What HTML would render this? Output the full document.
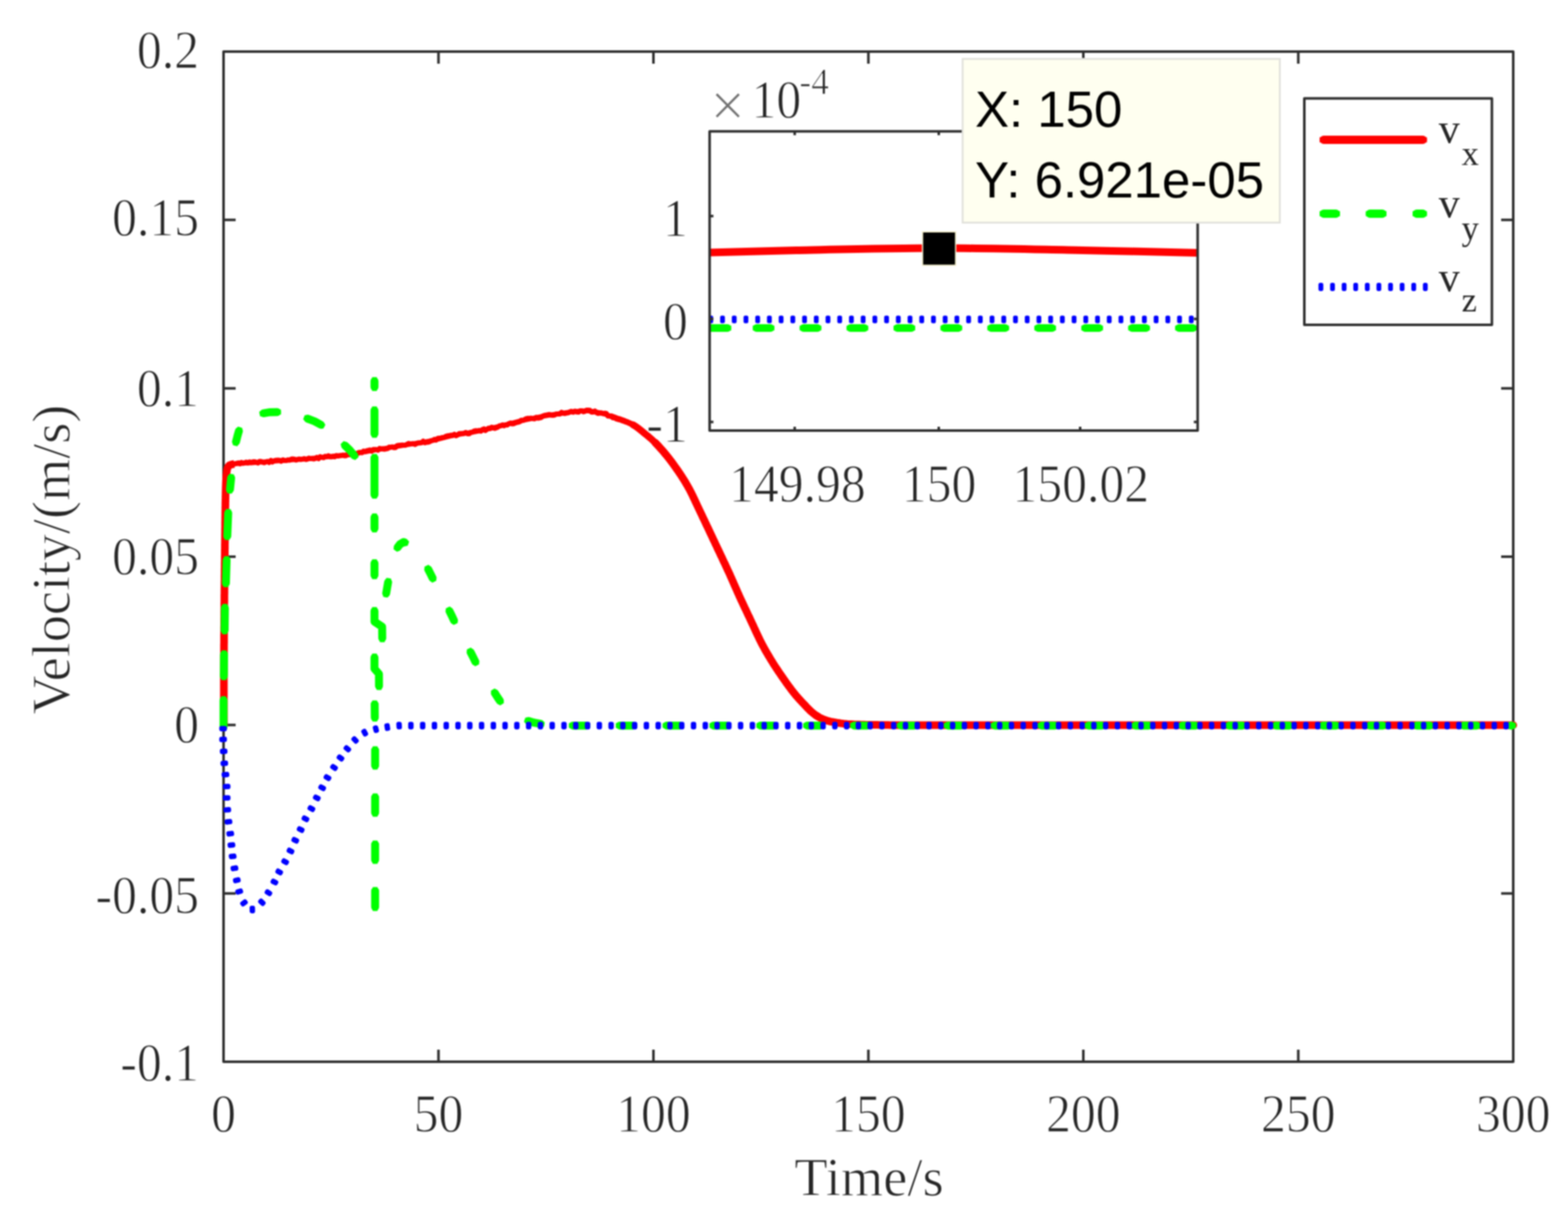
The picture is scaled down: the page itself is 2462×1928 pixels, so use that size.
<!DOCTYPE html>
<html><head><meta charset="utf-8"><title>Velocity plot</title>
<style>html,body{margin:0;padding:0;background:#fff;overflow:hidden;}svg{display:block;filter:blur(0.9px);}</style>
</head><body>
<svg width="2462" height="1928" viewBox="0 0 2462 1928">
<rect width="2462" height="1928" fill="#fff"/>
<g fill="none" stroke="#2e2e2e" stroke-width="4.0" stroke-linejoin="round">
<path d="M351.0 1667.0V1648.0M351.0 81.0V100.0M688.5 1667.0V1648.0M688.5 81.0V100.0M1026.0 1667.0V1648.0M1026.0 81.0V100.0M1363.5 1667.0V1648.0M1363.5 81.0V100.0M1701.0 1667.0V1648.0M1701.0 81.0V100.0M2038.5 1667.0V1648.0M2038.5 81.0V100.0M2376.0 1667.0V1648.0M2376.0 81.0V100.0M351.0 81.0H370.0M2376.0 81.0H2357.0M351.0 345.3H370.0M2376.0 345.3H2357.0M351.0 609.7H370.0M2376.0 609.7H2357.0M351.0 874.0H370.0M2376.0 874.0H2357.0M351.0 1138.3H370.0M2376.0 1138.3H2357.0M351.0 1402.7H370.0M2376.0 1402.7H2357.0M351.0 1667.0H370.0M2376.0 1667.0H2357.0"/>
<rect x="351.0" y="81.0" width="2025.0" height="1586.0"/>
</g>
<g stroke-linecap="butt"><path d="M351.5 1139.0C351.5 1122.5 351.5 1073.2 351.6 1040.0C351.7 1006.8 352.0 971.7 352.3 940.0C352.6 908.3 352.9 877.5 353.2 850.0C353.5 822.5 353.8 792.5 354.2 775.0C354.6 757.5 354.9 752.0 355.5 745.0C356.1 738.0 356.8 735.6 358.0 733.0C359.2 730.4 360.2 730.4 363.0 729.5C365.8 728.6 368.8 728.3 375.0 727.8C381.2 727.2 391.2 726.8 400.0 726.2C408.8 725.6 418.6 724.9 427.8 724.2C437.0 723.6 446.2 722.9 455.0 722.3C463.8 721.7 470.4 721.4 480.5 720.5C490.6 719.6 503.9 718.2 515.6 717.0C527.3 715.8 539.0 714.9 550.7 713.2C562.4 711.5 574.3 709.0 586.0 707.0C597.7 705.0 609.3 703.1 621.0 701.2C632.7 699.3 646.3 697.1 656.1 695.5C665.9 693.9 670.5 693.5 680.0 691.5C689.5 689.5 701.7 685.8 713.4 683.4C725.1 681.0 737.8 679.5 750.0 677.0C762.2 674.5 774.5 671.6 786.7 668.7C798.9 665.8 811.2 662.2 823.4 659.5C835.6 656.8 847.9 654.3 860.1 652.2C872.3 650.1 886.2 647.9 896.8 646.7C907.3 645.5 915.1 644.8 923.4 645.2C931.7 645.6 939.0 647.2 946.8 649.3C954.6 651.3 962.5 654.6 970.3 657.5C978.1 660.4 986.9 663.1 993.7 666.8C1000.5 670.5 1005.4 675.0 1011.2 679.7C1017.1 684.4 1022.9 689.1 1028.8 695.0C1034.7 700.9 1040.6 707.6 1046.4 714.8C1052.2 722.0 1058.1 729.7 1063.9 738.3C1069.8 746.9 1075.7 755.7 1081.5 766.4C1087.3 777.1 1091.2 786.3 1099.0 802.5C1106.8 818.7 1120.4 847.6 1128.0 863.8C1135.6 880.0 1139.2 887.3 1144.8 899.6C1150.4 911.9 1156.1 925.3 1161.7 937.6C1167.3 949.9 1172.9 961.5 1178.5 973.4C1184.1 985.3 1189.8 998.3 1195.4 1009.2C1201.0 1020.1 1206.7 1029.6 1212.3 1038.7C1217.9 1047.8 1223.5 1055.9 1229.1 1064.0C1234.7 1072.1 1240.4 1080.2 1246.0 1087.2C1251.6 1094.2 1257.7 1100.7 1262.9 1106.2C1268.1 1111.7 1272.2 1116.2 1277.0 1120.0C1281.8 1123.8 1286.5 1126.7 1292.0 1129.0C1297.5 1131.3 1302.0 1132.6 1310.0 1134.0C1318.0 1135.4 1325.0 1136.6 1340.0 1137.3C1355.0 1138.0 1390.0 1138.2 1400.0 1138.4L2376 1138.5" fill="none" stroke="#ff0000" stroke-width="7.5" stroke-linejoin="round"/><path d="M363.0 729.5L365.2 728.9L367.8 728.5L370.9 727.6L375.0 726.7L377.0 728.1L379.1 726.1L381.5 727.4L383.9 726.7L386.5 725.6L389.2 726.9L391.9 725.2L394.6 726.3L397.3 725.0L400.0 724.9L402.4 725.8L404.9 726.9L407.4 724.5L409.9 724.6L412.5 725.7L415.0 726.6L417.6 725.2L420.2 724.4L422.7 726.1L425.3 722.9L427.8 725.3L430.6 723.3L433.3 722.7L436.1 722.4L438.8 722.8L441.5 724.2L444.3 722.0L447.0 723.1L449.7 723.1L452.4 722.1L455.0 722.5L457.6 720.7L460.1 720.6L462.5 720.9L464.9 722.2L467.3 721.3L469.7 720.7L472.2 721.4L474.8 720.8L477.6 720.1L480.5 721.4L482.7 720.9L485.0 719.3L487.4 720.1L489.8 719.7L492.3 720.6L494.9 719.9L497.4 718.2L500.1 720.1L502.7 717.1L505.3 717.8L507.9 718.6L510.5 716.4L513.1 717.2L515.6 715.5L518.1 717.3L520.6 717.3L523.1 716.5L525.6 717.2L528.1 715.2L530.6 716.1L533.1 715.6L535.6 715.3L538.1 714.6L540.7 715.6L543.2 715.6L545.7 713.8L548.2 714.1L550.7 711.8L553.2 713.5L555.7 712.9L558.3 713.6L560.8 712.6L563.3 710.5L565.8 710.3L568.4 710.8L570.9 708.2L573.4 709.2L575.9 707.7L578.5 707.1L581.0 706.5L583.5 708.3L586.0 705.8L588.5 705.8L591.0 705.8L593.5 706.9L596.0 704.0L598.5 704.7L601.0 704.6L603.5 705.3L606.0 704.7L608.5 704.4L611.0 702.1L613.5 702.2L616.0 701.6L618.5 702.8L621.0 702.7L623.5 699.7L626.1 699.3L628.7 699.1L631.3 698.7L634.0 699.0L636.6 698.9L639.2 697.5L641.8 696.2L644.4 697.1L646.9 696.6L649.3 696.8L651.7 697.7L653.9 696.5L656.1 695.5L659.2 695.4L662.0 695.1L664.5 692.8L667.0 695.1L669.3 694.4L671.7 694.3L674.3 693.6L677.0 691.8L680.0 691.2L682.2 689.7L684.6 690.9L687.0 688.5L689.5 687.9L692.0 687.7L694.6 686.9L697.2 686.7L699.9 685.1L702.6 684.3L705.3 684.1L708.0 683.3L710.7 683.5L713.4 681.9L715.9 684.1L718.5 682.8L721.0 680.8L723.6 680.7L726.2 680.6L728.9 680.2L731.5 679.0L734.1 680.9L736.8 680.9L739.4 678.8L742.1 678.4L744.7 676.7L747.4 676.2L750.0 676.5L752.4 675.8L754.9 677.0L757.3 674.4L759.8 673.4L762.2 675.9L764.7 674.0L767.1 672.2L769.6 672.9L772.0 670.7L774.5 671.7L776.9 672.6L779.4 671.6L781.8 670.5L784.3 668.5L786.7 668.3L789.1 667.0L791.6 668.4L794.0 667.0L796.5 667.2L798.9 665.1L801.4 664.1L803.8 665.4L806.3 665.3L808.7 664.2L811.2 663.4L813.6 662.9L816.1 662.0L818.5 659.8L821.0 660.1L823.4 659.0L826.0 657.4L828.6 656.8L831.3 657.1L833.9 656.5L836.5 657.3L839.1 657.6L841.8 655.4L844.4 656.5L847.0 656.2L849.6 655.6L852.2 653.2L854.9 652.2L857.5 651.8L860.1 651.2L862.7 650.8L865.4 651.7L868.1 652.1L870.9 651.5L873.6 649.9L876.4 650.0L879.1 650.0L881.8 647.4L884.4 648.8L887.1 649.2L889.6 648.5L892.1 648.1L894.5 646.9L896.8 645.7L899.9 647.3L902.8 645.5L905.6 646.7L908.3 647.1L910.9 645.0L913.5 644.9L916.0 646.5L918.4 645.8L920.9 644.0L923.4 644.0L926.1 644.3L928.8 647.0L931.4 647.0L934.0 645.3L936.6 647.9L939.1 649.0L941.7 648.5L944.2 648.2L946.8 649.5L949.4 648.8L952.0 649.3L954.6 653.2L957.2 653.1L959.9 653.6L962.5 655.9L965.1 655.3L967.7 657.7L970.3 658.5L972.7 657.4L975.1 658.4L977.5 659.4L980.0 660.1L982.4 662.1L984.8 662.0L987.1 663.5L989.4 664.7L991.6 665.7L993.7 666.8" fill="none" stroke="#ff0000" stroke-width="8.0" stroke-linejoin="round"/><path d="M959.9 653.6L962.5 654.5L965.1 655.5L967.7 656.5L970.3 657.5L972.7 658.4L975.1 659.2L977.5 660.1L980.0 661.0L982.4 661.9L984.8 662.8L987.1 663.7L989.4 664.7L991.6 665.7L993.7 666.8L996.2 668.2L998.5 669.7L1000.7 671.3L1002.8 672.9L1004.9 674.5L1007.0 676.2L1009.0 677.9L1011.2 679.7L1013.2 681.3L1015.1 682.9L1017.1 684.5L1019.0 686.1" fill="none" stroke="#ff0000" stroke-width="9.20" stroke-linejoin="round" stroke-linecap="round"/><path d="M993.7 666.8L996.2 668.2L998.5 669.7L1000.7 671.3L1002.8 672.9L1004.9 674.5L1007.0 676.2L1009.0 677.9L1011.2 679.7L1013.2 681.3L1015.1 682.9L1017.1 684.5L1019.0 686.1L1021.0 687.8L1022.9 689.5L1024.9 691.3L1026.8 693.1L1028.8 695.0L1030.6 696.8L1032.3 698.6L1034.1 700.5L1035.8 702.4L1037.6 704.4L1039.4 706.4L1041.1 708.4L1042.9 710.5L1044.6 712.6L1046.4 714.8" fill="none" stroke="#ff0000" stroke-width="10.80" stroke-linejoin="round" stroke-linecap="round"/><path d="M1028.8 695.0L1030.6 696.8L1032.3 698.6L1034.1 700.5L1035.8 702.4L1037.6 704.4L1039.4 706.4L1041.1 708.4L1042.9 710.5L1044.6 712.6L1046.4 714.8L1048.0 716.8L1049.6 718.8L1051.2 720.8L1052.8 722.9L1054.4 725.0L1055.9 727.1L1057.5 729.3L1059.1 731.5L1060.7 733.7L1062.3 736.0L1063.9 738.3L1065.3 740.3L1066.6 742.3L1068.0 744.3L1069.3 746.3L1070.7 748.4L1072.0 750.5L1073.4 752.6L1074.7 754.8L1076.1 757.0L1077.4 759.3L1078.8 761.6L1080.1 764.0L1081.5 766.4L1082.6 768.4L1083.6 770.4L1084.6 772.3L1085.6 774.3L1086.6 776.2L1087.6 778.2L1088.5 780.3L1089.5 782.4L1090.6 784.5L1091.6 786.8L1092.7 789.1L1093.8 791.5L1095.0 794.1L1096.3 796.7L1097.6 799.5L1099.0 802.5L1099.9 804.4L1100.8 806.3L1101.8 808.3L1102.8 810.5L1103.8 812.7L1104.9 814.9L1106.0 817.2L1107.1 819.6L1108.3 822.0L1109.4 824.5L1110.6 826.9L1111.8 829.4L1113.0 831.9L1114.1 834.4L1115.3 836.9L1116.5 839.4L1117.7 841.9L1118.8 844.3L1119.9 846.7L1121.1 849.1L1122.2 851.4L1123.2 853.7L1124.3 855.9L1125.3 858.0L1126.2 860.0L1127.1 862.0L1128.0 863.8L1129.5 866.9L1130.9 869.8L1132.1 872.6L1133.4 875.1L1134.5 877.5L1135.6 879.9L1136.6 882.1L1137.7 884.2L1138.7 886.3L1139.6 888.4L1140.6 890.6L1141.6 892.7L1142.6 894.9L1143.7 897.2L1144.8 899.6L1145.9 901.9L1146.9 904.3L1148.0 906.6L1149.0 909.0L1150.1 911.4L1151.1 913.8L1152.2 916.2L1153.2 918.6L1154.3 921.0L1155.4 923.4L1156.4 925.8L1157.5 928.2L1158.5 930.6L1159.6 932.9L1160.6 935.3L1161.7 937.6L1162.8 940.1L1163.9 942.5L1165.1 944.9L1166.2 947.3L1167.3 949.7L1168.4 952.1L1169.5 954.5L1170.7 956.8L1171.8 959.2L1172.9 961.5L1174.0 963.9L1175.1 966.3L1176.3 968.6L1177.4 971.0L1178.5 973.4L1179.6 975.8L1180.7 978.2L1181.9 980.7L1183.0 983.1L1184.1 985.6L1185.3 988.0L1186.4 990.5L1187.5 992.9L1188.6 995.3L1189.8 997.7L1190.9 1000.1L1192.0 1002.4L1193.1 1004.7L1194.3 1007.0L1195.4 1009.2L1196.7 1011.7L1198.0 1014.1L1199.3 1016.5L1200.6 1018.9L1201.9 1021.2L1203.2 1023.5L1204.5 1025.7L1205.8 1027.9L1207.1 1030.1L1208.4 1032.3L1209.7 1034.5L1211.0 1036.6L1212.3 1038.7L1213.7 1041.0L1215.1 1043.2L1216.5 1045.4L1217.9 1047.5L1219.3 1049.6L1220.7 1051.7L1222.1 1053.8L1223.5 1055.9L1224.9 1057.9L1226.3 1060.0L1227.7 1062.0L1229.1 1064.0L1230.6 1066.2L1232.2 1068.4L1233.7 1070.6L1235.2 1072.8L1236.8 1074.9L1238.3 1077.1L1239.9 1079.2L1241.4 1081.2L1242.9 1083.3L1244.5 1085.3L1246.0 1087.2L1247.7 1089.3L1249.4 1091.4L1251.2 1093.4L1252.9 1095.4L1254.6 1097.3L1256.3 1099.2L1258.0 1101.0L1259.7 1102.8L1261.3 1104.5L1262.9 1106.2L1265.1 1108.5L1267.1 1110.7L1269.1 1112.7L1271.0 1114.7L1273.0 1116.6L1275.0 1118.3L1277.0 1120.0L1279.4 1121.8L1281.8 1123.5L1284.3 1125.0L1286.7 1126.5L1289.3 1127.8L1292.0 1129.0L1294.3 1129.9L1296.6 1130.8L1298.9 1131.5L1301.3 1132.2L1303.9 1132.8L1306.8 1133.4L1310.0 1134.0L1312.0 1134.3L1314.0 1134.7L1316.0 1135.0L1318.0 1135.3L1320.1 1135.6L1322.4 1135.9L1324.8 1136.2L1327.3 1136.4L1330.1 1136.7L1333.1 1136.9L1336.4 1137.1L1340.0 1137.3L1342.0 1137.4L1344.1 1137.5L1346.5 1137.6L1349.0 1137.6L1351.6 1137.7L1354.3 1137.8L1357.1 1137.8L1360.0 1137.9L1362.9 1137.9L1365.9 1138.0L1368.9 1138.0L1371.9 1138.1L1374.8 1138.1L1377.7 1138.1L1380.6 1138.2L1383.3 1138.2L1386.0 1138.2L1388.5 1138.3L1390.9 1138.3L1393.1 1138.3L1395.2 1138.3L1397.0 1138.4L1398.6 1138.4L1400.0 1138.4L2376 1138.5" fill="none" stroke="#ff0000" stroke-width="12" stroke-linejoin="round" stroke-linecap="round"/><path d="M351.5 1139.0L351.5 1137.7L351.5 1136.2L351.5 1134.6L351.5 1132.9L351.5 1131.1L351.5 1129.2L351.5 1127.2L351.5 1125.1L351.5 1122.9L351.5 1120.7L351.5 1118.3L351.5 1115.9L351.5 1113.4L351.5 1110.8L351.5 1108.2L351.5 1105.5L351.5 1102.8L351.5 1100.0L351.5 1097.2L351.5 1094.3L351.5 1091.4L351.5 1088.5L351.5 1085.6L351.5 1082.7L351.5 1079.7L351.5 1076.7L351.5 1073.8L351.5 1070.8L351.5 1067.9L351.5 1064.9L351.5 1062.0L351.5 1059.1L351.6 1056.3L351.6 1053.5L351.6 1050.7L351.6 1047.9L351.6 1045.2L351.6 1042.6L351.6 1040.0L351.6 1037.5L351.6 1035.0L351.6 1032.5L351.6 1030.0L351.7 1027.5L351.7 1025.0L351.7 1022.4L351.7 1019.9L351.7 1017.4L351.7 1014.8L351.7 1012.3L351.8 1009.8L351.8 1007.2L351.8 1004.7L351.8 1002.1L351.8 999.6L351.8 997.1L351.9 994.5L351.9 992.0L351.9 989.4L351.9 986.9L351.9 984.4L352.0 981.8L352.0 979.3L352.0 976.8L352.0 974.3L352.0 971.8L352.1 969.3L352.1 966.8L352.1 964.3L352.1 961.8L352.1 959.4L352.2 956.9L352.2 954.5L352.2 952.0L352.2 949.6L352.2 947.2L352.3 944.8L352.3 942.4L352.3 940.0L352.3 937.4L352.3 934.7L352.4 932.1L352.4 929.5L352.4 926.9L352.4 924.2L352.5 921.6L352.5 919.0L352.5 916.4L352.5 913.9L352.6 911.3L352.6 908.7L352.6 906.1L352.6 903.6L352.7 901.0L352.7 898.5L352.7 896.0L352.7 893.4L352.8 890.9L352.8 888.4L352.8 885.9L352.8 883.4L352.9 881.0L352.9 878.5L352.9 876.1L352.9 873.6L353.0 871.2L353.0 868.8L353.0 866.4L353.0 864.0L353.1 861.6L353.1 859.3L353.1 856.9L353.1 854.6L353.2 852.3L353.2 850.0L353.2 847.2L353.3 844.5L353.3 841.7L353.3 838.9L353.4 836.1L353.4 833.3L353.4 830.5L353.5 827.8L353.5 825.0L353.5 822.2L353.5 819.5L353.6 816.8L353.6 814.1L353.6 811.4L353.7 808.8L353.7 806.1L353.7 803.6L353.8 801.0L353.8 798.6L353.8 796.1L353.9 793.7L353.9 791.4L353.9 789.1L354.0 786.9L354.0 784.7L354.1 782.6L354.1 780.6L354.1 778.7L354.2 776.8L354.2 775.0L354.3 770.9L354.4 767.2L354.5 763.9L354.6 761.0L354.7 758.4L354.8 756.1L354.9 753.9L355.0 752.0L355.1 750.2L355.2 748.4L355.3 746.7L355.5 745.0L356.0 740.5L356.5 737.3L357.2 735.0L358.0 733.0L359.9 730.6L363.0 729.5L365.2 728.9L367.8 728.5" fill="none" stroke="#ff0000" stroke-width="12" stroke-linejoin="round" stroke-linecap="butt"/><path d="M351.0 1141.5L351.0 1099.5M351.5 1061.5L351.8 1027.5M352.7 989.5L353.1 954.5M354.7 915.5L355.8 879.5M356.9 841.5L358.3 805.5M361.1 768.5L362.9 750.5M370.6 693.6L373.0 684.0L375.1 676.8M413.9 648.8L424.0 647.2L435.0 646.9M483.1 657.3L494.0 661.5L503.8 666.9M541.7 699.4L549.0 706.5L556.3 715.2M588.0 598.5L588.0 607.5M588.0 644.5L588.0 681.0M588.0 719.0L588.0 776.5M588.0 812.5L588.0 829.5M588.0 884.5L588.0 903.0M588.0 959.5L588.0 976.0L600.0 984.0L600.2 1002.0M588.0 1032.5L588.0 1050.0L595.0 1058.0L595.1 1077.0M588.3 1106.0L588.5 1126.5M589.0 1178.0L589.0 1202.0M589.0 1252.0L589.0 1276.0M589.0 1326.0L589.0 1350.0M589.0 1399.0L589.0 1424.0M606.4 931.5L608.0 922.0L609.4 914.0M624.4 859.3L628.0 854.5L634.0 851.0L635.3 851.5M672.4 893.9L676.0 901.0L679.2 907.6M705.8 959.4L709.5 967.0L712.8 974.1M738.9 1023.9L743.0 1032.0L746.4 1038.9M777.0 1088.1L781.0 1094.5L784.9 1100.3M829.8 1131.9L838.0 1134.5L848.6 1136.4M899.5 1139.2L920.5 1139.2M973.1 1139.2L994.1 1139.2M1046.8 1139.2L1067.7 1139.2M1120.3 1139.2L1141.2 1139.2M1193.9 1139.2L1214.8 1139.2M1267.5 1139.2L1288.4 1139.2M1341.1 1139.2L1362.0 1139.2M1414.7 1139.2L1435.6 1139.2M1488.3 1139.2L1509.2 1139.2M1561.9 1139.2L1582.8 1139.2M1635.5 1139.2L1656.4 1139.2M1709.1 1139.2L1730.0 1139.2M1782.7 1139.2L1803.6 1139.2M1856.3 1139.2L1877.2 1139.2M1929.9 1139.2L1950.8 1139.2M2003.5 1139.2L2024.4 1139.2M2077.1 1139.2L2098.0 1139.2M2150.7 1139.2L2171.6 1139.2M2224.3 1139.2L2245.2 1139.2M2297.9 1139.2L2318.8 1139.2M2371.5 1139.2L2373.9 1139.2" fill="none" stroke="#00ff00" stroke-width="12.5" stroke-linejoin="round" stroke-linecap="round"/><path d="M351.0 1147.7L351.0 1093.3M351.5 1067.7L351.8 1021.3M352.6 995.7L353.2 948.3M354.5 921.7L356.0 873.3M356.6 847.7L358.6 799.3M360.4 774.7L363.6 744.3M369.1 699.7L373.0 684.0L376.9 670.8M407.7 649.8L424.0 647.2L441.2 646.8M477.3 655.1L494.0 661.5L509.2 669.9M537.2 695.0L549.0 706.5L560.3 720.0M588.0 592.3L588.0 613.7M588.0 638.3L588.0 687.2M588.0 712.8L588.0 782.7M588.0 806.3L588.0 835.7M588.0 878.3L588.0 909.2M588.0 953.3L588.0 976.0L600.0 984.0L600.3 1008.2M588.0 1026.3L588.0 1050.0L595.0 1058.0L595.2 1083.2M588.3 1099.8L588.5 1132.7M589.0 1171.8L589.0 1208.2M589.0 1245.8L589.0 1282.2M589.0 1319.8L589.0 1356.2M589.0 1392.8L589.0 1430.2M605.3 937.7L608.0 922.0L610.4 907.8M620.7 864.3L628.0 854.5L634.0 851.0L641.2 853.5M669.6 888.3L676.0 901.0L681.9 913.2M703.1 953.8L709.5 967.0L715.4 979.7M736.1 1018.3L743.0 1032.0L749.2 1044.5M773.7 1082.8L781.0 1094.5L788.3 1105.6M823.8 1130.1L838.0 1134.5L854.7 1137.5M893.3 1139.2L926.7 1139.2M966.9 1139.2L1000.3 1139.2M1040.5 1139.2L1073.9 1139.2M1114.1 1139.2L1147.5 1139.2M1187.7 1139.2L1221.1 1139.2M1261.3 1139.2L1294.7 1139.2M1334.9 1139.2L1368.3 1139.2M1408.5 1139.2L1441.9 1139.2M1482.1 1139.2L1515.5 1139.2M1555.7 1139.2L1589.1 1139.2M1629.3 1139.2L1662.7 1139.2M1702.9 1139.2L1736.3 1139.2M1776.5 1139.2L1809.9 1139.2M1850.1 1139.2L1883.5 1139.2M1923.7 1139.2L1957.1 1139.2M1997.3 1139.2L2030.7 1139.2M2070.9 1139.2L2104.3 1139.2M2144.5 1139.2L2177.9 1139.2M2218.1 1139.2L2251.5 1139.2M2291.7 1139.2L2325.1 1139.2M2365.3 1139.2L2380.2 1139.2" fill="none" stroke="#00ff00" stroke-width="7.75" stroke-linejoin="round" stroke-linecap="butt"/><path d="M356.3 1143.2L356.3 1144.8A3.4 3.4 0 0 1 352.9 1148.2L347.7 1148.2A3.4 3.4 0 0 1 344.3 1144.8L344.3 1143.2A3.4 3.4 0 0 1 347.7 1139.8L352.9 1139.8A3.4 3.4 0 0 1 356.3 1143.2ZM356.3 1159.9L356.3 1161.6A3.4 3.4 0 0 1 353.0 1165.1L347.8 1165.2A3.4 3.4 0 0 1 344.3 1161.9L344.3 1160.2A3.4 3.4 0 0 1 347.6 1156.7L352.8 1156.6A3.4 3.4 0 0 1 356.3 1159.9ZM357.1 1178.4L357.2 1180.1A3.4 3.4 0 0 1 354.0 1183.7L348.8 1184.0A3.4 3.4 0 0 1 345.3 1180.8L345.2 1179.1A3.4 3.4 0 0 1 348.4 1175.5L353.6 1175.2A3.4 3.4 0 0 1 357.1 1178.4ZM358.1 1197.1L358.2 1198.8A3.4 3.4 0 0 1 355.1 1202.4L349.9 1202.8A3.4 3.4 0 0 1 346.3 1199.7L346.2 1198.0A3.4 3.4 0 0 1 349.3 1194.4L354.5 1194.0A3.4 3.4 0 0 1 358.1 1197.1ZM359.9 1214.7L360.1 1216.4A3.4 3.4 0 0 1 357.0 1220.2L351.8 1220.7A3.4 3.4 0 0 1 348.1 1217.7L347.9 1216.0A3.4 3.4 0 0 1 351.0 1212.2L356.2 1211.7A3.4 3.4 0 0 1 359.9 1214.7ZM361.8 1233.7L361.9 1235.4A3.4 3.4 0 0 1 358.7 1239.0L353.5 1239.3A3.4 3.4 0 0 1 350.0 1236.1L349.9 1234.4A3.4 3.4 0 0 1 353.1 1230.8L358.3 1230.5A3.4 3.4 0 0 1 361.8 1233.7ZM361.9 1251.7L361.9 1253.4A3.4 3.4 0 0 1 358.6 1256.9L353.4 1257.0A3.4 3.4 0 0 1 349.9 1253.7L349.9 1252.0A3.4 3.4 0 0 1 353.2 1248.5L358.4 1248.4A3.4 3.4 0 0 1 361.9 1251.7ZM362.8 1270.1L362.9 1271.8A3.4 3.4 0 0 1 359.8 1275.4L354.6 1275.8A3.4 3.4 0 0 1 351.0 1272.7L350.9 1271.0A3.4 3.4 0 0 1 354.0 1267.4L359.2 1267.0A3.4 3.4 0 0 1 362.8 1270.1ZM364.6 1288.6L364.8 1290.3A3.4 3.4 0 0 1 361.8 1294.1L356.6 1294.7A3.4 3.4 0 0 1 352.8 1291.8L352.6 1290.1A3.4 3.4 0 0 1 355.6 1286.3L360.8 1285.7A3.4 3.4 0 0 1 364.6 1288.6ZM367.3 1307.3L367.6 1309.0A3.4 3.4 0 0 1 364.6 1312.8L359.5 1313.4A3.4 3.4 0 0 1 355.7 1310.5L355.4 1308.8A3.4 3.4 0 0 1 358.4 1305.0L363.5 1304.4A3.4 3.4 0 0 1 367.3 1307.3ZM369.3 1325.2L369.5 1326.9A3.4 3.4 0 0 1 366.4 1330.7L361.3 1331.2A3.4 3.4 0 0 1 357.5 1328.2L357.3 1326.5A3.4 3.4 0 0 1 360.4 1322.7L365.5 1322.2A3.4 3.4 0 0 1 369.3 1325.2ZM371.1 1342.9L371.4 1344.6A3.4 3.4 0 0 1 368.4 1348.4L363.3 1349.0A3.4 3.4 0 0 1 359.5 1346.1L359.2 1344.4A3.4 3.4 0 0 1 362.2 1340.6L367.3 1340.0A3.4 3.4 0 0 1 371.1 1342.9ZM373.9 1361.3L374.2 1363.0A3.4 3.4 0 0 1 371.4 1366.9L366.3 1367.8A3.4 3.4 0 0 1 362.3 1365.1L362.0 1363.4A3.4 3.4 0 0 1 364.8 1359.5L369.9 1358.6A3.4 3.4 0 0 1 373.9 1361.3ZM377.5 1380.0L377.8 1381.6A3.4 3.4 0 0 1 375.2 1385.6L370.1 1386.7A3.4 3.4 0 0 1 366.1 1384.0L365.8 1382.4A3.4 3.4 0 0 1 368.4 1378.4L373.5 1377.3A3.4 3.4 0 0 1 377.5 1380.0ZM381.1 1397.2L381.6 1398.8A3.4 3.4 0 0 1 379.4 1403.1L374.4 1404.6A3.4 3.4 0 0 1 370.1 1402.4L369.6 1400.8A3.4 3.4 0 0 1 371.8 1396.5L376.8 1395.0A3.4 3.4 0 0 1 381.1 1397.2ZM387.4 1413.4L388.4 1414.7A3.4 3.4 0 0 1 387.7 1419.5L383.5 1422.6A3.4 3.4 0 0 1 378.8 1421.8L377.8 1420.5A3.4 3.4 0 0 1 378.5 1415.7L382.7 1412.6A3.4 3.4 0 0 1 387.4 1413.4ZM395.1 1421.9L396.8 1421.9A3.4 3.4 0 0 1 400.4 1425.2L400.5 1430.3A3.4 3.4 0 0 1 397.3 1433.9L395.6 1433.9A3.4 3.4 0 0 1 392.0 1430.6L391.9 1425.5A3.4 3.4 0 0 1 395.1 1421.9ZM406.3 1413.1L407.5 1411.8A3.4 3.4 0 0 1 412.3 1411.7L416.0 1415.3A3.4 3.4 0 0 1 416.1 1420.1L414.9 1421.4A3.4 3.4 0 0 1 410.1 1421.5L406.4 1417.9A3.4 3.4 0 0 1 406.3 1413.1ZM416.0 1399.2L416.8 1397.7A3.4 3.4 0 0 1 421.5 1396.6L425.9 1399.4A3.4 3.4 0 0 1 427.0 1404.0L426.2 1405.5A3.4 3.4 0 0 1 421.5 1406.6L417.1 1403.8A3.4 3.4 0 0 1 416.0 1399.2ZM425.2 1382.8L426.0 1381.3A3.4 3.4 0 0 1 430.5 1379.8L435.2 1382.2A3.4 3.4 0 0 1 436.6 1386.8L435.8 1388.3A3.4 3.4 0 0 1 431.3 1389.8L426.6 1387.4A3.4 3.4 0 0 1 425.2 1382.8ZM432.7 1366.9L433.5 1365.4A3.4 3.4 0 0 1 438.1 1363.9L442.7 1366.4A3.4 3.4 0 0 1 444.1 1370.9L443.3 1372.4A3.4 3.4 0 0 1 438.7 1373.9L434.1 1371.4A3.4 3.4 0 0 1 432.7 1366.9ZM442.0 1350.8L442.8 1349.3A3.4 3.4 0 0 1 447.4 1347.9L452.0 1350.4A3.4 3.4 0 0 1 453.4 1355.0L452.6 1356.5A3.4 3.4 0 0 1 448.0 1357.9L443.4 1355.4A3.4 3.4 0 0 1 442.0 1350.8ZM450.3 1334.3L451.0 1332.8A3.4 3.4 0 0 1 455.6 1331.1L460.3 1333.4A3.4 3.4 0 0 1 461.9 1337.9L461.2 1339.4A3.4 3.4 0 0 1 456.6 1341.1L451.9 1338.8A3.4 3.4 0 0 1 450.3 1334.3ZM457.8 1317.4L458.5 1315.9A3.4 3.4 0 0 1 463.1 1314.2L467.8 1316.5A3.4 3.4 0 0 1 469.4 1321.0L468.7 1322.5A3.4 3.4 0 0 1 464.1 1324.2L459.4 1321.9A3.4 3.4 0 0 1 457.8 1317.4ZM466.3 1300.6L467.0 1299.1A3.4 3.4 0 0 1 471.6 1297.4L476.3 1299.7A3.4 3.4 0 0 1 477.9 1304.2L477.2 1305.7A3.4 3.4 0 0 1 472.6 1307.4L467.9 1305.1A3.4 3.4 0 0 1 466.3 1300.6ZM473.9 1283.5L474.6 1282.0A3.4 3.4 0 0 1 479.2 1280.5L483.9 1282.9A3.4 3.4 0 0 1 485.3 1287.5L484.6 1289.0A3.4 3.4 0 0 1 480.0 1290.5L475.3 1288.1A3.4 3.4 0 0 1 473.9 1283.5ZM483.2 1267.5L484.0 1266.0A3.4 3.4 0 0 1 488.6 1264.6L493.2 1267.1A3.4 3.4 0 0 1 494.6 1271.7L493.8 1273.2A3.4 3.4 0 0 1 489.2 1274.6L484.6 1272.1A3.4 3.4 0 0 1 483.2 1267.5ZM491.7 1250.7L492.5 1249.2A3.4 3.4 0 0 1 497.0 1247.7L501.7 1250.1A3.4 3.4 0 0 1 503.1 1254.7L502.3 1256.2A3.4 3.4 0 0 1 497.8 1257.7L493.1 1255.3A3.4 3.4 0 0 1 491.7 1250.7ZM500.1 1234.7L500.9 1233.2A3.4 3.4 0 0 1 505.5 1231.8L510.1 1234.3A3.4 3.4 0 0 1 511.5 1238.9L510.7 1240.4A3.4 3.4 0 0 1 506.1 1241.8L501.5 1239.3A3.4 3.4 0 0 1 500.1 1234.7ZM508.6 1218.6L509.5 1217.1A3.4 3.4 0 0 1 514.1 1215.9L518.6 1218.5A3.4 3.4 0 0 1 519.8 1223.2L518.9 1224.7A3.4 3.4 0 0 1 514.3 1225.9L509.8 1223.3A3.4 3.4 0 0 1 508.6 1218.6ZM519.0 1202.3L520.0 1200.9A3.4 3.4 0 0 1 524.7 1199.9L529.0 1202.8A3.4 3.4 0 0 1 530.0 1207.5L529.0 1208.9A3.4 3.4 0 0 1 524.3 1209.9L520.0 1207.0A3.4 3.4 0 0 1 519.0 1202.3ZM529.2 1187.2L530.2 1185.8A3.4 3.4 0 0 1 535.0 1185.0L539.2 1188.0A3.4 3.4 0 0 1 540.0 1192.8L539.0 1194.2A3.4 3.4 0 0 1 534.2 1195.0L530.0 1192.0A3.4 3.4 0 0 1 529.2 1187.2ZM540.2 1172.5L541.3 1171.2A3.4 3.4 0 0 1 546.1 1170.7L550.1 1173.9A3.4 3.4 0 0 1 550.6 1178.7L549.5 1180.0A3.4 3.4 0 0 1 544.7 1180.5L540.7 1177.3A3.4 3.4 0 0 1 540.2 1172.5ZM552.8 1158.0L554.0 1156.8A3.4 3.4 0 0 1 558.8 1157.0L562.4 1160.8A3.4 3.4 0 0 1 562.2 1165.6L561.0 1166.8A3.4 3.4 0 0 1 556.2 1166.6L552.6 1162.8A3.4 3.4 0 0 1 552.8 1158.0ZM569.1 1145.4L570.6 1144.6A3.4 3.4 0 0 1 575.2 1146.0L577.6 1150.6A3.4 3.4 0 0 1 576.1 1155.2L574.6 1156.0A3.4 3.4 0 0 1 570.0 1154.6L567.6 1150.0A3.4 3.4 0 0 1 569.1 1145.4ZM587.9 1139.2L589.6 1138.8A3.4 3.4 0 0 1 593.7 1141.3L595.0 1146.3A3.4 3.4 0 0 1 592.5 1150.4L590.8 1150.8A3.4 3.4 0 0 1 586.7 1148.3L585.4 1143.3A3.4 3.4 0 0 1 587.9 1139.2ZM606.3 1135.7L608.0 1135.4A3.4 3.4 0 0 1 611.9 1138.3L612.7 1143.4A3.4 3.4 0 0 1 609.9 1147.3L608.2 1147.6A3.4 3.4 0 0 1 604.3 1144.7L603.5 1139.6A3.4 3.4 0 0 1 606.3 1135.7ZM625.5 1133.3L627.2 1133.2A3.4 3.4 0 0 1 630.8 1136.3L631.1 1141.5A3.4 3.4 0 0 1 627.9 1145.1L626.2 1145.2A3.4 3.4 0 0 1 622.6 1142.1L622.3 1136.9A3.4 3.4 0 0 1 625.5 1133.3ZM644.3 1133.2L646.0 1133.2A3.4 3.4 0 0 1 649.4 1136.6L649.4 1141.8A3.4 3.4 0 0 1 646.0 1145.2L644.3 1145.2A3.4 3.4 0 0 1 640.9 1141.8L640.9 1136.6A3.4 3.4 0 0 1 644.3 1133.2ZM662.8 1133.2L664.5 1133.2A3.4 3.4 0 0 1 667.9 1136.6L667.9 1141.8A3.4 3.4 0 0 1 664.5 1145.2L662.8 1145.2A3.4 3.4 0 0 1 659.4 1141.8L659.4 1136.6A3.4 3.4 0 0 1 662.8 1133.2ZM681.3 1133.2L683.0 1133.2A3.4 3.4 0 0 1 686.4 1136.6L686.4 1141.8A3.4 3.4 0 0 1 683.0 1145.2L681.3 1145.2A3.4 3.4 0 0 1 677.9 1141.8L677.9 1136.6A3.4 3.4 0 0 1 681.3 1133.2ZM699.8 1133.2L701.5 1133.2A3.4 3.4 0 0 1 704.9 1136.6L704.9 1141.8A3.4 3.4 0 0 1 701.5 1145.2L699.8 1145.2A3.4 3.4 0 0 1 696.4 1141.8L696.4 1136.6A3.4 3.4 0 0 1 699.8 1133.2ZM718.3 1133.2L720.0 1133.2A3.4 3.4 0 0 1 723.4 1136.6L723.4 1141.8A3.4 3.4 0 0 1 720.0 1145.2L718.3 1145.2A3.4 3.4 0 0 1 714.9 1141.8L714.9 1136.6A3.4 3.4 0 0 1 718.3 1133.2ZM736.8 1133.2L738.5 1133.2A3.4 3.4 0 0 1 741.9 1136.6L741.9 1141.8A3.4 3.4 0 0 1 738.5 1145.2L736.8 1145.2A3.4 3.4 0 0 1 733.4 1141.8L733.4 1136.6A3.4 3.4 0 0 1 736.8 1133.2ZM755.3 1133.2L757.0 1133.2A3.4 3.4 0 0 1 760.4 1136.6L760.4 1141.8A3.4 3.4 0 0 1 757.0 1145.2L755.3 1145.2A3.4 3.4 0 0 1 751.9 1141.8L751.9 1136.6A3.4 3.4 0 0 1 755.3 1133.2ZM773.8 1133.2L775.5 1133.2A3.4 3.4 0 0 1 778.9 1136.6L778.9 1141.8A3.4 3.4 0 0 1 775.5 1145.2L773.8 1145.2A3.4 3.4 0 0 1 770.4 1141.8L770.4 1136.6A3.4 3.4 0 0 1 773.8 1133.2ZM792.2 1133.2L793.9 1133.2A3.4 3.4 0 0 1 797.3 1136.6L797.3 1141.8A3.4 3.4 0 0 1 793.9 1145.2L792.2 1145.2A3.4 3.4 0 0 1 788.8 1141.8L788.8 1136.6A3.4 3.4 0 0 1 792.2 1133.2ZM810.7 1133.2L812.4 1133.2A3.4 3.4 0 0 1 815.8 1136.6L815.8 1141.8A3.4 3.4 0 0 1 812.4 1145.2L810.7 1145.2A3.4 3.4 0 0 1 807.3 1141.8L807.3 1136.6A3.4 3.4 0 0 1 810.7 1133.2ZM829.2 1133.2L830.9 1133.2A3.4 3.4 0 0 1 834.3 1136.6L834.3 1141.8A3.4 3.4 0 0 1 830.9 1145.2L829.2 1145.2A3.4 3.4 0 0 1 825.8 1141.8L825.8 1136.6A3.4 3.4 0 0 1 829.2 1133.2ZM847.7 1133.2L849.4 1133.2A3.4 3.4 0 0 1 852.8 1136.6L852.8 1141.8A3.4 3.4 0 0 1 849.4 1145.2L847.7 1145.2A3.4 3.4 0 0 1 844.3 1141.8L844.3 1136.6A3.4 3.4 0 0 1 847.7 1133.2ZM866.2 1133.2L867.9 1133.2A3.4 3.4 0 0 1 871.3 1136.6L871.3 1141.8A3.4 3.4 0 0 1 867.9 1145.2L866.2 1145.2A3.4 3.4 0 0 1 862.8 1141.8L862.8 1136.6A3.4 3.4 0 0 1 866.2 1133.2ZM884.7 1133.2L886.4 1133.2A3.4 3.4 0 0 1 889.8 1136.6L889.8 1141.8A3.4 3.4 0 0 1 886.4 1145.2L884.7 1145.2A3.4 3.4 0 0 1 881.3 1141.8L881.3 1136.6A3.4 3.4 0 0 1 884.7 1133.2ZM903.2 1133.2L904.9 1133.2A3.4 3.4 0 0 1 908.3 1136.6L908.3 1141.8A3.4 3.4 0 0 1 904.9 1145.2L903.2 1145.2A3.4 3.4 0 0 1 899.8 1141.8L899.8 1136.6A3.4 3.4 0 0 1 903.2 1133.2ZM921.7 1133.2L923.4 1133.2A3.4 3.4 0 0 1 926.8 1136.6L926.8 1141.8A3.4 3.4 0 0 1 923.4 1145.2L921.7 1145.2A3.4 3.4 0 0 1 918.3 1141.8L918.3 1136.6A3.4 3.4 0 0 1 921.7 1133.2ZM940.2 1133.2L941.9 1133.2A3.4 3.4 0 0 1 945.3 1136.6L945.3 1141.8A3.4 3.4 0 0 1 941.9 1145.2L940.2 1145.2A3.4 3.4 0 0 1 936.8 1141.8L936.8 1136.6A3.4 3.4 0 0 1 940.2 1133.2ZM958.7 1133.2L960.4 1133.2A3.4 3.4 0 0 1 963.8 1136.6L963.8 1141.8A3.4 3.4 0 0 1 960.4 1145.2L958.7 1145.2A3.4 3.4 0 0 1 955.3 1141.8L955.3 1136.6A3.4 3.4 0 0 1 958.7 1133.2ZM977.1 1133.2L978.8 1133.2A3.4 3.4 0 0 1 982.2 1136.6L982.2 1141.8A3.4 3.4 0 0 1 978.8 1145.2L977.1 1145.2A3.4 3.4 0 0 1 973.7 1141.8L973.7 1136.6A3.4 3.4 0 0 1 977.1 1133.2ZM995.6 1133.2L997.3 1133.2A3.4 3.4 0 0 1 1000.7 1136.6L1000.7 1141.8A3.4 3.4 0 0 1 997.3 1145.2L995.6 1145.2A3.4 3.4 0 0 1 992.2 1141.8L992.2 1136.6A3.4 3.4 0 0 1 995.6 1133.2ZM1014.1 1133.2L1015.8 1133.2A3.4 3.4 0 0 1 1019.2 1136.6L1019.2 1141.8A3.4 3.4 0 0 1 1015.8 1145.2L1014.1 1145.2A3.4 3.4 0 0 1 1010.7 1141.8L1010.7 1136.6A3.4 3.4 0 0 1 1014.1 1133.2ZM1032.6 1133.2L1034.3 1133.2A3.4 3.4 0 0 1 1037.7 1136.6L1037.7 1141.8A3.4 3.4 0 0 1 1034.3 1145.2L1032.6 1145.2A3.4 3.4 0 0 1 1029.2 1141.8L1029.2 1136.6A3.4 3.4 0 0 1 1032.6 1133.2ZM1051.1 1133.2L1052.8 1133.2A3.4 3.4 0 0 1 1056.2 1136.6L1056.2 1141.8A3.4 3.4 0 0 1 1052.8 1145.2L1051.1 1145.2A3.4 3.4 0 0 1 1047.7 1141.8L1047.7 1136.6A3.4 3.4 0 0 1 1051.1 1133.2ZM1069.6 1133.2L1071.3 1133.2A3.4 3.4 0 0 1 1074.7 1136.6L1074.7 1141.8A3.4 3.4 0 0 1 1071.3 1145.2L1069.6 1145.2A3.4 3.4 0 0 1 1066.2 1141.8L1066.2 1136.6A3.4 3.4 0 0 1 1069.6 1133.2ZM1088.1 1133.2L1089.8 1133.2A3.4 3.4 0 0 1 1093.2 1136.6L1093.2 1141.8A3.4 3.4 0 0 1 1089.8 1145.2L1088.1 1145.2A3.4 3.4 0 0 1 1084.7 1141.8L1084.7 1136.6A3.4 3.4 0 0 1 1088.1 1133.2ZM1106.6 1133.2L1108.3 1133.2A3.4 3.4 0 0 1 1111.7 1136.6L1111.7 1141.8A3.4 3.4 0 0 1 1108.3 1145.2L1106.6 1145.2A3.4 3.4 0 0 1 1103.2 1141.8L1103.2 1136.6A3.4 3.4 0 0 1 1106.6 1133.2ZM1125.1 1133.2L1126.8 1133.2A3.4 3.4 0 0 1 1130.2 1136.6L1130.2 1141.8A3.4 3.4 0 0 1 1126.8 1145.2L1125.1 1145.2A3.4 3.4 0 0 1 1121.7 1141.8L1121.7 1136.6A3.4 3.4 0 0 1 1125.1 1133.2ZM1143.6 1133.2L1145.3 1133.2A3.4 3.4 0 0 1 1148.7 1136.6L1148.7 1141.8A3.4 3.4 0 0 1 1145.3 1145.2L1143.6 1145.2A3.4 3.4 0 0 1 1140.2 1141.8L1140.2 1136.6A3.4 3.4 0 0 1 1143.6 1133.2ZM1162.0 1133.2L1163.7 1133.2A3.4 3.4 0 0 1 1167.1 1136.6L1167.1 1141.8A3.4 3.4 0 0 1 1163.7 1145.2L1162.0 1145.2A3.4 3.4 0 0 1 1158.6 1141.8L1158.6 1136.6A3.4 3.4 0 0 1 1162.0 1133.2ZM1180.5 1133.2L1182.2 1133.2A3.4 3.4 0 0 1 1185.6 1136.6L1185.6 1141.8A3.4 3.4 0 0 1 1182.2 1145.2L1180.5 1145.2A3.4 3.4 0 0 1 1177.1 1141.8L1177.1 1136.6A3.4 3.4 0 0 1 1180.5 1133.2ZM1199.0 1133.2L1200.7 1133.2A3.4 3.4 0 0 1 1204.1 1136.6L1204.1 1141.8A3.4 3.4 0 0 1 1200.7 1145.2L1199.0 1145.2A3.4 3.4 0 0 1 1195.6 1141.8L1195.6 1136.6A3.4 3.4 0 0 1 1199.0 1133.2ZM1217.5 1133.2L1219.2 1133.2A3.4 3.4 0 0 1 1222.6 1136.6L1222.6 1141.8A3.4 3.4 0 0 1 1219.2 1145.2L1217.5 1145.2A3.4 3.4 0 0 1 1214.1 1141.8L1214.1 1136.6A3.4 3.4 0 0 1 1217.5 1133.2ZM1236.0 1133.2L1237.7 1133.2A3.4 3.4 0 0 1 1241.1 1136.6L1241.1 1141.8A3.4 3.4 0 0 1 1237.7 1145.2L1236.0 1145.2A3.4 3.4 0 0 1 1232.6 1141.8L1232.6 1136.6A3.4 3.4 0 0 1 1236.0 1133.2ZM1254.5 1133.2L1256.2 1133.2A3.4 3.4 0 0 1 1259.6 1136.6L1259.6 1141.8A3.4 3.4 0 0 1 1256.2 1145.2L1254.5 1145.2A3.4 3.4 0 0 1 1251.1 1141.8L1251.1 1136.6A3.4 3.4 0 0 1 1254.5 1133.2ZM1273.0 1133.2L1274.7 1133.2A3.4 3.4 0 0 1 1278.1 1136.6L1278.1 1141.8A3.4 3.4 0 0 1 1274.7 1145.2L1273.0 1145.2A3.4 3.4 0 0 1 1269.6 1141.8L1269.6 1136.6A3.4 3.4 0 0 1 1273.0 1133.2ZM1291.5 1133.2L1293.2 1133.2A3.4 3.4 0 0 1 1296.6 1136.6L1296.6 1141.8A3.4 3.4 0 0 1 1293.2 1145.2L1291.5 1145.2A3.4 3.4 0 0 1 1288.1 1141.8L1288.1 1136.6A3.4 3.4 0 0 1 1291.5 1133.2ZM1310.0 1133.2L1311.7 1133.2A3.4 3.4 0 0 1 1315.1 1136.6L1315.1 1141.8A3.4 3.4 0 0 1 1311.7 1145.2L1310.0 1145.2A3.4 3.4 0 0 1 1306.6 1141.8L1306.6 1136.6A3.4 3.4 0 0 1 1310.0 1133.2ZM1328.5 1133.2L1330.2 1133.2A3.4 3.4 0 0 1 1333.6 1136.6L1333.6 1141.8A3.4 3.4 0 0 1 1330.2 1145.2L1328.5 1145.2A3.4 3.4 0 0 1 1325.1 1141.8L1325.1 1136.6A3.4 3.4 0 0 1 1328.5 1133.2ZM1346.9 1133.2L1348.6 1133.2A3.4 3.4 0 0 1 1352.0 1136.6L1352.0 1141.8A3.4 3.4 0 0 1 1348.6 1145.2L1346.9 1145.2A3.4 3.4 0 0 1 1343.5 1141.8L1343.5 1136.6A3.4 3.4 0 0 1 1346.9 1133.2ZM1365.4 1133.2L1367.1 1133.2A3.4 3.4 0 0 1 1370.5 1136.6L1370.5 1141.8A3.4 3.4 0 0 1 1367.1 1145.2L1365.4 1145.2A3.4 3.4 0 0 1 1362.0 1141.8L1362.0 1136.6A3.4 3.4 0 0 1 1365.4 1133.2ZM1383.9 1133.2L1385.6 1133.2A3.4 3.4 0 0 1 1389.0 1136.6L1389.0 1141.8A3.4 3.4 0 0 1 1385.6 1145.2L1383.9 1145.2A3.4 3.4 0 0 1 1380.5 1141.8L1380.5 1136.6A3.4 3.4 0 0 1 1383.9 1133.2ZM1402.4 1133.2L1404.1 1133.2A3.4 3.4 0 0 1 1407.5 1136.6L1407.5 1141.8A3.4 3.4 0 0 1 1404.1 1145.2L1402.4 1145.2A3.4 3.4 0 0 1 1399.0 1141.8L1399.0 1136.6A3.4 3.4 0 0 1 1402.4 1133.2ZM1420.9 1133.2L1422.6 1133.2A3.4 3.4 0 0 1 1426.0 1136.6L1426.0 1141.8A3.4 3.4 0 0 1 1422.6 1145.2L1420.9 1145.2A3.4 3.4 0 0 1 1417.5 1141.8L1417.5 1136.6A3.4 3.4 0 0 1 1420.9 1133.2ZM1439.4 1133.2L1441.1 1133.2A3.4 3.4 0 0 1 1444.5 1136.6L1444.5 1141.8A3.4 3.4 0 0 1 1441.1 1145.2L1439.4 1145.2A3.4 3.4 0 0 1 1436.0 1141.8L1436.0 1136.6A3.4 3.4 0 0 1 1439.4 1133.2ZM1457.9 1133.2L1459.6 1133.2A3.4 3.4 0 0 1 1463.0 1136.6L1463.0 1141.8A3.4 3.4 0 0 1 1459.6 1145.2L1457.9 1145.2A3.4 3.4 0 0 1 1454.5 1141.8L1454.5 1136.6A3.4 3.4 0 0 1 1457.9 1133.2ZM1476.4 1133.2L1478.1 1133.2A3.4 3.4 0 0 1 1481.5 1136.6L1481.5 1141.8A3.4 3.4 0 0 1 1478.1 1145.2L1476.4 1145.2A3.4 3.4 0 0 1 1473.0 1141.8L1473.0 1136.6A3.4 3.4 0 0 1 1476.4 1133.2ZM1494.9 1133.2L1496.6 1133.2A3.4 3.4 0 0 1 1500.0 1136.6L1500.0 1141.8A3.4 3.4 0 0 1 1496.6 1145.2L1494.9 1145.2A3.4 3.4 0 0 1 1491.5 1141.8L1491.5 1136.6A3.4 3.4 0 0 1 1494.9 1133.2ZM1513.4 1133.2L1515.1 1133.2A3.4 3.4 0 0 1 1518.5 1136.6L1518.5 1141.8A3.4 3.4 0 0 1 1515.1 1145.2L1513.4 1145.2A3.4 3.4 0 0 1 1510.0 1141.8L1510.0 1136.6A3.4 3.4 0 0 1 1513.4 1133.2ZM1531.8 1133.2L1533.5 1133.2A3.4 3.4 0 0 1 1536.9 1136.6L1536.9 1141.8A3.4 3.4 0 0 1 1533.5 1145.2L1531.8 1145.2A3.4 3.4 0 0 1 1528.4 1141.8L1528.4 1136.6A3.4 3.4 0 0 1 1531.8 1133.2ZM1550.3 1133.2L1552.0 1133.2A3.4 3.4 0 0 1 1555.4 1136.6L1555.4 1141.8A3.4 3.4 0 0 1 1552.0 1145.2L1550.3 1145.2A3.4 3.4 0 0 1 1546.9 1141.8L1546.9 1136.6A3.4 3.4 0 0 1 1550.3 1133.2ZM1568.8 1133.2L1570.5 1133.2A3.4 3.4 0 0 1 1573.9 1136.6L1573.9 1141.8A3.4 3.4 0 0 1 1570.5 1145.2L1568.8 1145.2A3.4 3.4 0 0 1 1565.4 1141.8L1565.4 1136.6A3.4 3.4 0 0 1 1568.8 1133.2ZM1587.3 1133.2L1589.0 1133.2A3.4 3.4 0 0 1 1592.4 1136.6L1592.4 1141.8A3.4 3.4 0 0 1 1589.0 1145.2L1587.3 1145.2A3.4 3.4 0 0 1 1583.9 1141.8L1583.9 1136.6A3.4 3.4 0 0 1 1587.3 1133.2ZM1605.8 1133.2L1607.5 1133.2A3.4 3.4 0 0 1 1610.9 1136.6L1610.9 1141.8A3.4 3.4 0 0 1 1607.5 1145.2L1605.8 1145.2A3.4 3.4 0 0 1 1602.4 1141.8L1602.4 1136.6A3.4 3.4 0 0 1 1605.8 1133.2ZM1624.3 1133.2L1626.0 1133.2A3.4 3.4 0 0 1 1629.4 1136.6L1629.4 1141.8A3.4 3.4 0 0 1 1626.0 1145.2L1624.3 1145.2A3.4 3.4 0 0 1 1620.9 1141.8L1620.9 1136.6A3.4 3.4 0 0 1 1624.3 1133.2ZM1642.8 1133.2L1644.5 1133.2A3.4 3.4 0 0 1 1647.9 1136.6L1647.9 1141.8A3.4 3.4 0 0 1 1644.5 1145.2L1642.8 1145.2A3.4 3.4 0 0 1 1639.4 1141.8L1639.4 1136.6A3.4 3.4 0 0 1 1642.8 1133.2ZM1661.3 1133.2L1663.0 1133.2A3.4 3.4 0 0 1 1666.4 1136.6L1666.4 1141.8A3.4 3.4 0 0 1 1663.0 1145.2L1661.3 1145.2A3.4 3.4 0 0 1 1657.9 1141.8L1657.9 1136.6A3.4 3.4 0 0 1 1661.3 1133.2ZM1679.8 1133.2L1681.5 1133.2A3.4 3.4 0 0 1 1684.9 1136.6L1684.9 1141.8A3.4 3.4 0 0 1 1681.5 1145.2L1679.8 1145.2A3.4 3.4 0 0 1 1676.4 1141.8L1676.4 1136.6A3.4 3.4 0 0 1 1679.8 1133.2ZM1698.3 1133.2L1700.0 1133.2A3.4 3.4 0 0 1 1703.4 1136.6L1703.4 1141.8A3.4 3.4 0 0 1 1700.0 1145.2L1698.3 1145.2A3.4 3.4 0 0 1 1694.9 1141.8L1694.9 1136.6A3.4 3.4 0 0 1 1698.3 1133.2ZM1716.7 1133.2L1718.4 1133.2A3.4 3.4 0 0 1 1721.8 1136.6L1721.8 1141.8A3.4 3.4 0 0 1 1718.4 1145.2L1716.7 1145.2A3.4 3.4 0 0 1 1713.3 1141.8L1713.3 1136.6A3.4 3.4 0 0 1 1716.7 1133.2ZM1735.2 1133.2L1736.9 1133.2A3.4 3.4 0 0 1 1740.3 1136.6L1740.3 1141.8A3.4 3.4 0 0 1 1736.9 1145.2L1735.2 1145.2A3.4 3.4 0 0 1 1731.8 1141.8L1731.8 1136.6A3.4 3.4 0 0 1 1735.2 1133.2ZM1753.7 1133.2L1755.4 1133.2A3.4 3.4 0 0 1 1758.8 1136.6L1758.8 1141.8A3.4 3.4 0 0 1 1755.4 1145.2L1753.7 1145.2A3.4 3.4 0 0 1 1750.3 1141.8L1750.3 1136.6A3.4 3.4 0 0 1 1753.7 1133.2ZM1772.2 1133.2L1773.9 1133.2A3.4 3.4 0 0 1 1777.3 1136.6L1777.3 1141.8A3.4 3.4 0 0 1 1773.9 1145.2L1772.2 1145.2A3.4 3.4 0 0 1 1768.8 1141.8L1768.8 1136.6A3.4 3.4 0 0 1 1772.2 1133.2ZM1790.7 1133.2L1792.4 1133.2A3.4 3.4 0 0 1 1795.8 1136.6L1795.8 1141.8A3.4 3.4 0 0 1 1792.4 1145.2L1790.7 1145.2A3.4 3.4 0 0 1 1787.3 1141.8L1787.3 1136.6A3.4 3.4 0 0 1 1790.7 1133.2ZM1809.2 1133.2L1810.9 1133.2A3.4 3.4 0 0 1 1814.3 1136.6L1814.3 1141.8A3.4 3.4 0 0 1 1810.9 1145.2L1809.2 1145.2A3.4 3.4 0 0 1 1805.8 1141.8L1805.8 1136.6A3.4 3.4 0 0 1 1809.2 1133.2ZM1827.7 1133.2L1829.4 1133.2A3.4 3.4 0 0 1 1832.8 1136.6L1832.8 1141.8A3.4 3.4 0 0 1 1829.4 1145.2L1827.7 1145.2A3.4 3.4 0 0 1 1824.3 1141.8L1824.3 1136.6A3.4 3.4 0 0 1 1827.7 1133.2ZM1846.2 1133.2L1847.9 1133.2A3.4 3.4 0 0 1 1851.3 1136.6L1851.3 1141.8A3.4 3.4 0 0 1 1847.9 1145.2L1846.2 1145.2A3.4 3.4 0 0 1 1842.8 1141.8L1842.8 1136.6A3.4 3.4 0 0 1 1846.2 1133.2ZM1864.7 1133.2L1866.4 1133.2A3.4 3.4 0 0 1 1869.8 1136.6L1869.8 1141.8A3.4 3.4 0 0 1 1866.4 1145.2L1864.7 1145.2A3.4 3.4 0 0 1 1861.3 1141.8L1861.3 1136.6A3.4 3.4 0 0 1 1864.7 1133.2ZM1883.2 1133.2L1884.9 1133.2A3.4 3.4 0 0 1 1888.3 1136.6L1888.3 1141.8A3.4 3.4 0 0 1 1884.9 1145.2L1883.2 1145.2A3.4 3.4 0 0 1 1879.8 1141.8L1879.8 1136.6A3.4 3.4 0 0 1 1883.2 1133.2ZM1901.6 1133.2L1903.3 1133.2A3.4 3.4 0 0 1 1906.7 1136.6L1906.7 1141.8A3.4 3.4 0 0 1 1903.3 1145.2L1901.6 1145.2A3.4 3.4 0 0 1 1898.2 1141.8L1898.2 1136.6A3.4 3.4 0 0 1 1901.6 1133.2ZM1920.1 1133.2L1921.8 1133.2A3.4 3.4 0 0 1 1925.2 1136.6L1925.2 1141.8A3.4 3.4 0 0 1 1921.8 1145.2L1920.1 1145.2A3.4 3.4 0 0 1 1916.7 1141.8L1916.7 1136.6A3.4 3.4 0 0 1 1920.1 1133.2ZM1938.6 1133.2L1940.3 1133.2A3.4 3.4 0 0 1 1943.7 1136.6L1943.7 1141.8A3.4 3.4 0 0 1 1940.3 1145.2L1938.6 1145.2A3.4 3.4 0 0 1 1935.2 1141.8L1935.2 1136.6A3.4 3.4 0 0 1 1938.6 1133.2ZM1957.1 1133.2L1958.8 1133.2A3.4 3.4 0 0 1 1962.2 1136.6L1962.2 1141.8A3.4 3.4 0 0 1 1958.8 1145.2L1957.1 1145.2A3.4 3.4 0 0 1 1953.7 1141.8L1953.7 1136.6A3.4 3.4 0 0 1 1957.1 1133.2ZM1975.6 1133.2L1977.3 1133.2A3.4 3.4 0 0 1 1980.7 1136.6L1980.7 1141.8A3.4 3.4 0 0 1 1977.3 1145.2L1975.6 1145.2A3.4 3.4 0 0 1 1972.2 1141.8L1972.2 1136.6A3.4 3.4 0 0 1 1975.6 1133.2ZM1994.1 1133.2L1995.8 1133.2A3.4 3.4 0 0 1 1999.2 1136.6L1999.2 1141.8A3.4 3.4 0 0 1 1995.8 1145.2L1994.1 1145.2A3.4 3.4 0 0 1 1990.7 1141.8L1990.7 1136.6A3.4 3.4 0 0 1 1994.1 1133.2ZM2012.6 1133.2L2014.3 1133.2A3.4 3.4 0 0 1 2017.7 1136.6L2017.7 1141.8A3.4 3.4 0 0 1 2014.3 1145.2L2012.6 1145.2A3.4 3.4 0 0 1 2009.2 1141.8L2009.2 1136.6A3.4 3.4 0 0 1 2012.6 1133.2ZM2031.1 1133.2L2032.8 1133.2A3.4 3.4 0 0 1 2036.2 1136.6L2036.2 1141.8A3.4 3.4 0 0 1 2032.8 1145.2L2031.1 1145.2A3.4 3.4 0 0 1 2027.7 1141.8L2027.7 1136.6A3.4 3.4 0 0 1 2031.1 1133.2ZM2049.6 1133.2L2051.3 1133.2A3.4 3.4 0 0 1 2054.7 1136.6L2054.7 1141.8A3.4 3.4 0 0 1 2051.3 1145.2L2049.6 1145.2A3.4 3.4 0 0 1 2046.2 1141.8L2046.2 1136.6A3.4 3.4 0 0 1 2049.6 1133.2ZM2068.1 1133.2L2069.8 1133.2A3.4 3.4 0 0 1 2073.2 1136.6L2073.2 1141.8A3.4 3.4 0 0 1 2069.8 1145.2L2068.1 1145.2A3.4 3.4 0 0 1 2064.7 1141.8L2064.7 1136.6A3.4 3.4 0 0 1 2068.1 1133.2ZM2086.5 1133.2L2088.2 1133.2A3.4 3.4 0 0 1 2091.6 1136.6L2091.6 1141.8A3.4 3.4 0 0 1 2088.2 1145.2L2086.5 1145.2A3.4 3.4 0 0 1 2083.1 1141.8L2083.1 1136.6A3.4 3.4 0 0 1 2086.5 1133.2ZM2105.0 1133.2L2106.7 1133.2A3.4 3.4 0 0 1 2110.1 1136.6L2110.1 1141.8A3.4 3.4 0 0 1 2106.7 1145.2L2105.0 1145.2A3.4 3.4 0 0 1 2101.6 1141.8L2101.6 1136.6A3.4 3.4 0 0 1 2105.0 1133.2ZM2123.5 1133.2L2125.2 1133.2A3.4 3.4 0 0 1 2128.6 1136.6L2128.6 1141.8A3.4 3.4 0 0 1 2125.2 1145.2L2123.5 1145.2A3.4 3.4 0 0 1 2120.1 1141.8L2120.1 1136.6A3.4 3.4 0 0 1 2123.5 1133.2ZM2142.0 1133.2L2143.7 1133.2A3.4 3.4 0 0 1 2147.1 1136.6L2147.1 1141.8A3.4 3.4 0 0 1 2143.7 1145.2L2142.0 1145.2A3.4 3.4 0 0 1 2138.6 1141.8L2138.6 1136.6A3.4 3.4 0 0 1 2142.0 1133.2ZM2160.5 1133.2L2162.2 1133.2A3.4 3.4 0 0 1 2165.6 1136.6L2165.6 1141.8A3.4 3.4 0 0 1 2162.2 1145.2L2160.5 1145.2A3.4 3.4 0 0 1 2157.1 1141.8L2157.1 1136.6A3.4 3.4 0 0 1 2160.5 1133.2ZM2179.0 1133.2L2180.7 1133.2A3.4 3.4 0 0 1 2184.1 1136.6L2184.1 1141.8A3.4 3.4 0 0 1 2180.7 1145.2L2179.0 1145.2A3.4 3.4 0 0 1 2175.6 1141.8L2175.6 1136.6A3.4 3.4 0 0 1 2179.0 1133.2ZM2197.5 1133.2L2199.2 1133.2A3.4 3.4 0 0 1 2202.6 1136.6L2202.6 1141.8A3.4 3.4 0 0 1 2199.2 1145.2L2197.5 1145.2A3.4 3.4 0 0 1 2194.1 1141.8L2194.1 1136.6A3.4 3.4 0 0 1 2197.5 1133.2ZM2216.0 1133.2L2217.7 1133.2A3.4 3.4 0 0 1 2221.1 1136.6L2221.1 1141.8A3.4 3.4 0 0 1 2217.7 1145.2L2216.0 1145.2A3.4 3.4 0 0 1 2212.6 1141.8L2212.6 1136.6A3.4 3.4 0 0 1 2216.0 1133.2ZM2234.5 1133.2L2236.2 1133.2A3.4 3.4 0 0 1 2239.6 1136.6L2239.6 1141.8A3.4 3.4 0 0 1 2236.2 1145.2L2234.5 1145.2A3.4 3.4 0 0 1 2231.1 1141.8L2231.1 1136.6A3.4 3.4 0 0 1 2234.5 1133.2ZM2252.9 1133.2L2254.6 1133.2A3.4 3.4 0 0 1 2258.0 1136.6L2258.0 1141.8A3.4 3.4 0 0 1 2254.6 1145.2L2252.9 1145.2A3.4 3.4 0 0 1 2249.5 1141.8L2249.5 1136.6A3.4 3.4 0 0 1 2252.9 1133.2ZM2271.4 1133.2L2273.1 1133.2A3.4 3.4 0 0 1 2276.5 1136.6L2276.5 1141.8A3.4 3.4 0 0 1 2273.1 1145.2L2271.4 1145.2A3.4 3.4 0 0 1 2268.0 1141.8L2268.0 1136.6A3.4 3.4 0 0 1 2271.4 1133.2ZM2289.9 1133.2L2291.6 1133.2A3.4 3.4 0 0 1 2295.0 1136.6L2295.0 1141.8A3.4 3.4 0 0 1 2291.6 1145.2L2289.9 1145.2A3.4 3.4 0 0 1 2286.5 1141.8L2286.5 1136.6A3.4 3.4 0 0 1 2289.9 1133.2ZM2308.4 1133.2L2310.1 1133.2A3.4 3.4 0 0 1 2313.5 1136.6L2313.5 1141.8A3.4 3.4 0 0 1 2310.1 1145.2L2308.4 1145.2A3.4 3.4 0 0 1 2305.0 1141.8L2305.0 1136.6A3.4 3.4 0 0 1 2308.4 1133.2ZM2326.9 1133.2L2328.6 1133.2A3.4 3.4 0 0 1 2332.0 1136.6L2332.0 1141.8A3.4 3.4 0 0 1 2328.6 1145.2L2326.9 1145.2A3.4 3.4 0 0 1 2323.5 1141.8L2323.5 1136.6A3.4 3.4 0 0 1 2326.9 1133.2ZM2345.4 1133.2L2347.1 1133.2A3.4 3.4 0 0 1 2350.5 1136.6L2350.5 1141.8A3.4 3.4 0 0 1 2347.1 1145.2L2345.4 1145.2A3.4 3.4 0 0 1 2342.0 1141.8L2342.0 1136.6A3.4 3.4 0 0 1 2345.4 1133.2ZM2363.9 1133.2L2365.6 1133.2A3.4 3.4 0 0 1 2369.0 1136.6L2369.0 1141.8A3.4 3.4 0 0 1 2365.6 1145.2L2363.9 1145.2A3.4 3.4 0 0 1 2360.5 1141.8L2360.5 1136.6A3.4 3.4 0 0 1 2363.9 1133.2Z" fill="#0000ff"/></g>
<g font-family="'Liberation Serif','Times New Roman',serif" fill="#262626" stroke="#fff" stroke-width="1.2">
<text transform="translate(312.5 107.2) scale(1 1.075)" text-anchor="end" font-size="78">0.2</text><text transform="translate(312.5 370.4) scale(1 1.075)" text-anchor="end" font-size="78">0.15</text><text transform="translate(312.5 638.2) scale(1 1.075)" text-anchor="end" font-size="78">0.1</text><text transform="translate(312.5 901.8) scale(1 1.075)" text-anchor="end" font-size="78">0.05</text><text transform="translate(312.5 1165.5) scale(1 1.075)" text-anchor="end" font-size="78">0</text><text transform="translate(312.5 1434.3) scale(1 1.075)" text-anchor="end" font-size="78">-0.05</text><text transform="translate(312.5 1697.4) scale(1 1.075)" text-anchor="end" font-size="78">-0.1</text>
<text transform="translate(351.0 1777.0) scale(1 1.075)" text-anchor="middle" font-size="78">0</text><text transform="translate(688.5 1777.0) scale(1 1.075)" text-anchor="middle" font-size="78">50</text><text transform="translate(1026.0 1777.0) scale(1 1.075)" text-anchor="middle" font-size="78">100</text><text transform="translate(1363.5 1777.0) scale(1 1.075)" text-anchor="middle" font-size="78">150</text><text transform="translate(1701.0 1777.0) scale(1 1.075)" text-anchor="middle" font-size="78">200</text><text transform="translate(2038.5 1777.0) scale(1 1.075)" text-anchor="middle" font-size="78">250</text><text transform="translate(2376.0 1777.0) scale(1 1.075)" text-anchor="middle" font-size="78">300</text>
<text x="1364.5" y="1877" text-anchor="middle" font-size="85.5">Time/s</text>
<text transform="translate(108.5 878.5) rotate(-90)" text-anchor="middle" font-size="85">Velocity/(m/s)</text>
</g>
<rect x="1114.2" y="206.3" width="766.3" height="469.7" fill="#fff"/><clipPath id="ic"><rect x="1114.2" y="206.3" width="766.3" height="469.7"/></clipPath><g clip-path="url(#ic)"><path d="M1114.2 396.5C1136.8 395.9 1190.2 394.2 1250.0 393.0C1309.8 391.8 1398.0 389.5 1473.0 389.5C1548.0 389.5 1632.1 391.8 1700.0 393.0C1767.9 394.2 1850.4 396.3 1880.5 397.0" fill="none" stroke="#ff0000" stroke-width="12"/><path d="M1114.2 515.0L1142.2 515.0M1187.9 515.0L1209.9 515.0M1261.6 515.0L1283.6 515.0M1335.3 515.0L1357.3 515.0M1409.0 515.0L1431.0 515.0M1482.7 515.0L1504.7 515.0M1556.4 515.0L1578.4 515.0M1630.1 515.0L1652.1 515.0M1703.8 515.0L1725.8 515.0M1777.5 515.0L1799.5 515.0M1851.2 515.0L1873.2 515.0" fill="none" stroke="#00ff00" stroke-width="12" stroke-linejoin="round" stroke-linecap="round"/><path d="M1108.2 515.0L1148.2 515.0M1181.9 515.0L1215.9 515.0M1255.6 515.0L1289.6 515.0M1329.3 515.0L1363.3 515.0M1403.0 515.0L1437.0 515.0M1476.7 515.0L1510.7 515.0M1550.4 515.0L1584.4 515.0M1624.1 515.0L1658.1 515.0M1697.8 515.0L1731.8 515.0M1771.5 515.0L1805.5 515.0M1845.2 515.0L1879.2 515.0" fill="none" stroke="#00ff00" stroke-width="7.44" stroke-linejoin="round"/><path d="M1115.0 495.5L1117.0 495.5A2.8 2.8 0 0 1 1119.8 498.3L1119.8 504.7A2.8 2.8 0 0 1 1117.0 507.5L1115.0 507.5A2.8 2.8 0 0 1 1112.2 504.7L1112.2 498.3A2.8 2.8 0 0 1 1115.0 495.5ZM1133.5 495.5L1135.4 495.5A2.8 2.8 0 0 1 1138.2 498.3L1138.2 504.7A2.8 2.8 0 0 1 1135.4 507.5L1133.5 507.5A2.8 2.8 0 0 1 1130.7 504.7L1130.7 498.3A2.8 2.8 0 0 1 1133.5 495.5ZM1151.9 495.5L1153.8 495.5A2.8 2.8 0 0 1 1156.6 498.3L1156.6 504.7A2.8 2.8 0 0 1 1153.8 507.5L1151.9 507.5A2.8 2.8 0 0 1 1149.1 504.7L1149.1 498.3A2.8 2.8 0 0 1 1151.9 495.5ZM1170.3 495.5L1172.2 495.5A2.8 2.8 0 0 1 1175.0 498.3L1175.0 504.7A2.8 2.8 0 0 1 1172.2 507.5L1170.3 507.5A2.8 2.8 0 0 1 1167.5 504.7L1167.5 498.3A2.8 2.8 0 0 1 1170.3 495.5ZM1188.7 495.5L1190.6 495.5A2.8 2.8 0 0 1 1193.4 498.3L1193.4 504.7A2.8 2.8 0 0 1 1190.6 507.5L1188.7 507.5A2.8 2.8 0 0 1 1185.9 504.7L1185.9 498.3A2.8 2.8 0 0 1 1188.7 495.5ZM1207.1 495.5L1209.0 495.5A2.8 2.8 0 0 1 1211.8 498.3L1211.8 504.7A2.8 2.8 0 0 1 1209.0 507.5L1207.1 507.5A2.8 2.8 0 0 1 1204.3 504.7L1204.3 498.3A2.8 2.8 0 0 1 1207.1 495.5ZM1225.5 495.5L1227.4 495.5A2.8 2.8 0 0 1 1230.2 498.3L1230.2 504.7A2.8 2.8 0 0 1 1227.4 507.5L1225.5 507.5A2.8 2.8 0 0 1 1222.7 504.7L1222.7 498.3A2.8 2.8 0 0 1 1225.5 495.5ZM1243.9 495.5L1245.8 495.5A2.8 2.8 0 0 1 1248.6 498.3L1248.6 504.7A2.8 2.8 0 0 1 1245.8 507.5L1243.9 507.5A2.8 2.8 0 0 1 1241.1 504.7L1241.1 498.3A2.8 2.8 0 0 1 1243.9 495.5ZM1262.3 495.5L1264.2 495.5A2.8 2.8 0 0 1 1267.0 498.3L1267.0 504.7A2.8 2.8 0 0 1 1264.2 507.5L1262.3 507.5A2.8 2.8 0 0 1 1259.5 504.7L1259.5 498.3A2.8 2.8 0 0 1 1262.3 495.5ZM1280.7 495.5L1282.6 495.5A2.8 2.8 0 0 1 1285.4 498.3L1285.4 504.7A2.8 2.8 0 0 1 1282.6 507.5L1280.7 507.5A2.8 2.8 0 0 1 1277.9 504.7L1277.9 498.3A2.8 2.8 0 0 1 1280.7 495.5ZM1299.1 495.5L1301.0 495.5A2.8 2.8 0 0 1 1303.8 498.3L1303.8 504.7A2.8 2.8 0 0 1 1301.0 507.5L1299.1 507.5A2.8 2.8 0 0 1 1296.3 504.7L1296.3 498.3A2.8 2.8 0 0 1 1299.1 495.5ZM1317.5 495.5L1319.4 495.5A2.8 2.8 0 0 1 1322.2 498.3L1322.2 504.7A2.8 2.8 0 0 1 1319.4 507.5L1317.5 507.5A2.8 2.8 0 0 1 1314.7 504.7L1314.7 498.3A2.8 2.8 0 0 1 1317.5 495.5ZM1335.9 495.5L1337.8 495.5A2.8 2.8 0 0 1 1340.6 498.3L1340.6 504.7A2.8 2.8 0 0 1 1337.8 507.5L1335.9 507.5A2.8 2.8 0 0 1 1333.1 504.7L1333.1 498.3A2.8 2.8 0 0 1 1335.9 495.5ZM1354.3 495.5L1356.2 495.5A2.8 2.8 0 0 1 1359.0 498.3L1359.0 504.7A2.8 2.8 0 0 1 1356.2 507.5L1354.3 507.5A2.8 2.8 0 0 1 1351.5 504.7L1351.5 498.3A2.8 2.8 0 0 1 1354.3 495.5ZM1372.7 495.5L1374.6 495.5A2.8 2.8 0 0 1 1377.4 498.3L1377.4 504.7A2.8 2.8 0 0 1 1374.6 507.5L1372.7 507.5A2.8 2.8 0 0 1 1369.9 504.7L1369.9 498.3A2.8 2.8 0 0 1 1372.7 495.5ZM1391.1 495.5L1393.0 495.5A2.8 2.8 0 0 1 1395.8 498.3L1395.8 504.7A2.8 2.8 0 0 1 1393.0 507.5L1391.1 507.5A2.8 2.8 0 0 1 1388.3 504.7L1388.3 498.3A2.8 2.8 0 0 1 1391.1 495.5ZM1409.5 495.5L1411.4 495.5A2.8 2.8 0 0 1 1414.2 498.3L1414.2 504.7A2.8 2.8 0 0 1 1411.4 507.5L1409.5 507.5A2.8 2.8 0 0 1 1406.7 504.7L1406.7 498.3A2.8 2.8 0 0 1 1409.5 495.5ZM1427.9 495.5L1429.8 495.5A2.8 2.8 0 0 1 1432.6 498.3L1432.6 504.7A2.8 2.8 0 0 1 1429.8 507.5L1427.9 507.5A2.8 2.8 0 0 1 1425.1 504.7L1425.1 498.3A2.8 2.8 0 0 1 1427.9 495.5ZM1446.3 495.5L1448.2 495.5A2.8 2.8 0 0 1 1451.0 498.3L1451.0 504.7A2.8 2.8 0 0 1 1448.2 507.5L1446.3 507.5A2.8 2.8 0 0 1 1443.5 504.7L1443.5 498.3A2.8 2.8 0 0 1 1446.3 495.5ZM1464.7 495.5L1466.6 495.5A2.8 2.8 0 0 1 1469.4 498.3L1469.4 504.7A2.8 2.8 0 0 1 1466.6 507.5L1464.7 507.5A2.8 2.8 0 0 1 1461.9 504.7L1461.9 498.3A2.8 2.8 0 0 1 1464.7 495.5ZM1483.1 495.5L1485.0 495.5A2.8 2.8 0 0 1 1487.8 498.3L1487.8 504.7A2.8 2.8 0 0 1 1485.0 507.5L1483.1 507.5A2.8 2.8 0 0 1 1480.3 504.7L1480.3 498.3A2.8 2.8 0 0 1 1483.1 495.5ZM1501.5 495.5L1503.4 495.5A2.8 2.8 0 0 1 1506.2 498.3L1506.2 504.7A2.8 2.8 0 0 1 1503.4 507.5L1501.5 507.5A2.8 2.8 0 0 1 1498.7 504.7L1498.7 498.3A2.8 2.8 0 0 1 1501.5 495.5ZM1519.9 495.5L1521.8 495.5A2.8 2.8 0 0 1 1524.6 498.3L1524.6 504.7A2.8 2.8 0 0 1 1521.8 507.5L1519.9 507.5A2.8 2.8 0 0 1 1517.1 504.7L1517.1 498.3A2.8 2.8 0 0 1 1519.9 495.5ZM1538.3 495.5L1540.2 495.5A2.8 2.8 0 0 1 1543.0 498.3L1543.0 504.7A2.8 2.8 0 0 1 1540.2 507.5L1538.3 507.5A2.8 2.8 0 0 1 1535.5 504.7L1535.5 498.3A2.8 2.8 0 0 1 1538.3 495.5ZM1556.7 495.5L1558.6 495.5A2.8 2.8 0 0 1 1561.4 498.3L1561.4 504.7A2.8 2.8 0 0 1 1558.6 507.5L1556.7 507.5A2.8 2.8 0 0 1 1553.9 504.7L1553.9 498.3A2.8 2.8 0 0 1 1556.7 495.5ZM1575.1 495.5L1577.0 495.5A2.8 2.8 0 0 1 1579.8 498.3L1579.8 504.7A2.8 2.8 0 0 1 1577.0 507.5L1575.1 507.5A2.8 2.8 0 0 1 1572.3 504.7L1572.3 498.3A2.8 2.8 0 0 1 1575.1 495.5ZM1593.5 495.5L1595.4 495.5A2.8 2.8 0 0 1 1598.2 498.3L1598.2 504.7A2.8 2.8 0 0 1 1595.4 507.5L1593.5 507.5A2.8 2.8 0 0 1 1590.7 504.7L1590.7 498.3A2.8 2.8 0 0 1 1593.5 495.5ZM1611.9 495.5L1613.8 495.5A2.8 2.8 0 0 1 1616.6 498.3L1616.6 504.7A2.8 2.8 0 0 1 1613.8 507.5L1611.9 507.5A2.8 2.8 0 0 1 1609.1 504.7L1609.1 498.3A2.8 2.8 0 0 1 1611.9 495.5ZM1630.3 495.5L1632.2 495.5A2.8 2.8 0 0 1 1635.0 498.3L1635.0 504.7A2.8 2.8 0 0 1 1632.2 507.5L1630.3 507.5A2.8 2.8 0 0 1 1627.5 504.7L1627.5 498.3A2.8 2.8 0 0 1 1630.3 495.5ZM1648.7 495.5L1650.6 495.5A2.8 2.8 0 0 1 1653.4 498.3L1653.4 504.7A2.8 2.8 0 0 1 1650.6 507.5L1648.7 507.5A2.8 2.8 0 0 1 1645.9 504.7L1645.9 498.3A2.8 2.8 0 0 1 1648.7 495.5ZM1667.1 495.5L1669.0 495.5A2.8 2.8 0 0 1 1671.8 498.3L1671.8 504.7A2.8 2.8 0 0 1 1669.0 507.5L1667.1 507.5A2.8 2.8 0 0 1 1664.3 504.7L1664.3 498.3A2.8 2.8 0 0 1 1667.1 495.5ZM1685.5 495.5L1687.4 495.5A2.8 2.8 0 0 1 1690.2 498.3L1690.2 504.7A2.8 2.8 0 0 1 1687.4 507.5L1685.5 507.5A2.8 2.8 0 0 1 1682.7 504.7L1682.7 498.3A2.8 2.8 0 0 1 1685.5 495.5ZM1703.9 495.5L1705.8 495.5A2.8 2.8 0 0 1 1708.6 498.3L1708.6 504.7A2.8 2.8 0 0 1 1705.8 507.5L1703.9 507.5A2.8 2.8 0 0 1 1701.1 504.7L1701.1 498.3A2.8 2.8 0 0 1 1703.9 495.5ZM1722.3 495.5L1724.2 495.5A2.8 2.8 0 0 1 1727.0 498.3L1727.0 504.7A2.8 2.8 0 0 1 1724.2 507.5L1722.3 507.5A2.8 2.8 0 0 1 1719.5 504.7L1719.5 498.3A2.8 2.8 0 0 1 1722.3 495.5ZM1740.7 495.5L1742.6 495.5A2.8 2.8 0 0 1 1745.4 498.3L1745.4 504.7A2.8 2.8 0 0 1 1742.6 507.5L1740.7 507.5A2.8 2.8 0 0 1 1737.9 504.7L1737.9 498.3A2.8 2.8 0 0 1 1740.7 495.5ZM1759.1 495.5L1761.0 495.5A2.8 2.8 0 0 1 1763.8 498.3L1763.8 504.7A2.8 2.8 0 0 1 1761.0 507.5L1759.1 507.5A2.8 2.8 0 0 1 1756.3 504.7L1756.3 498.3A2.8 2.8 0 0 1 1759.1 495.5ZM1777.5 495.5L1779.4 495.5A2.8 2.8 0 0 1 1782.2 498.3L1782.2 504.7A2.8 2.8 0 0 1 1779.4 507.5L1777.5 507.5A2.8 2.8 0 0 1 1774.7 504.7L1774.7 498.3A2.8 2.8 0 0 1 1777.5 495.5ZM1795.9 495.5L1797.8 495.5A2.8 2.8 0 0 1 1800.6 498.3L1800.6 504.7A2.8 2.8 0 0 1 1797.8 507.5L1795.9 507.5A2.8 2.8 0 0 1 1793.1 504.7L1793.1 498.3A2.8 2.8 0 0 1 1795.9 495.5ZM1814.3 495.5L1816.2 495.5A2.8 2.8 0 0 1 1819.0 498.3L1819.0 504.7A2.8 2.8 0 0 1 1816.2 507.5L1814.3 507.5A2.8 2.8 0 0 1 1811.5 504.7L1811.5 498.3A2.8 2.8 0 0 1 1814.3 495.5ZM1832.7 495.5L1834.6 495.5A2.8 2.8 0 0 1 1837.4 498.3L1837.4 504.7A2.8 2.8 0 0 1 1834.6 507.5L1832.7 507.5A2.8 2.8 0 0 1 1829.9 504.7L1829.9 498.3A2.8 2.8 0 0 1 1832.7 495.5ZM1851.1 495.5L1853.0 495.5A2.8 2.8 0 0 1 1855.8 498.3L1855.8 504.7A2.8 2.8 0 0 1 1853.0 507.5L1851.1 507.5A2.8 2.8 0 0 1 1848.3 504.7L1848.3 498.3A2.8 2.8 0 0 1 1851.1 495.5ZM1869.5 495.5L1871.4 495.5A2.8 2.8 0 0 1 1874.2 498.3L1874.2 504.7A2.8 2.8 0 0 1 1871.4 507.5L1869.5 507.5A2.8 2.8 0 0 1 1866.7 504.7L1866.7 498.3A2.8 2.8 0 0 1 1869.5 495.5Z" fill="#0000ff"/></g><g fill="none" stroke="#2e2e2e" stroke-width="4.0" stroke-linejoin="round"><path d="M1247.8 676.0V670.0M1247.8 206.3V212.3M1474.0 676.0V670.0M1474.0 206.3V212.3M1696.0 676.0V670.0M1696.0 206.3V212.3M1114.2 339.2H1120.2M1880.5 339.2H1874.5M1114.2 500.8H1120.2M1880.5 500.8H1874.5M1114.2 662.4H1120.2M1880.5 662.4H1874.5"/><rect x="1114.2" y="206.3" width="766.3" height="469.7"/></g>
<g font-family="'Liberation Serif','Times New Roman',serif" fill="#262626" stroke="#fff" stroke-width="1.2"><text transform="translate(1080.0 370.7) scale(1 1.075)" text-anchor="end" font-size="78">1</text><text transform="translate(1080.0 532.8) scale(1 1.075)" text-anchor="end" font-size="78">0</text><text transform="translate(1080.0 693.9) scale(1 1.075)" text-anchor="end" font-size="78">-1</text><text transform="translate(1252.0 787.5) scale(1 1.075)" text-anchor="middle" font-size="78">149.98</text><text transform="translate(1474.5 787.5) scale(1 1.075)" text-anchor="middle" font-size="78">150</text><text transform="translate(1697.0 787.5) scale(1 1.075)" text-anchor="middle" font-size="78">150.02</text><text x="1115.3" y="197.6" font-size="97" fill="#707070">&#215;</text><text transform="translate(1180.0 184.5) scale(1 1.075)" text-anchor="start" font-size="78">10</text><text transform="translate(1255.0 147.5) scale(1 1.075)" text-anchor="start" font-size="56">-4</text></g>
<rect x="1448.5" y="364" width="52" height="52.5" fill="#000" stroke="#f4eecb" stroke-width="2"/>
<rect x="1511.5" y="92.5" width="498" height="257" fill="#fffff0" stroke="#e2e2dc" stroke-width="3"/>
<g font-family="'Liberation Sans',Arial,sans-serif" font-size="80" fill="#000">
<text x="1531" y="198.5">X: 150</text>
<text x="1531" y="310">Y: 6.921e-05</text>
</g>
<rect x="2048" y="154.5" width="294.5" height="355.5" fill="#fff" stroke="#2e2e2e" stroke-width="4.0" stroke-linejoin="round"/>
<path d="M2078.5 219.5L2234.0 219.5" fill="none" stroke="#ff0000" stroke-width="13" stroke-linejoin="round" stroke-linecap="round"/><path d="M2072.0 219.5L2240.5 219.5" fill="none" stroke="#ff0000" stroke-width="8.06" stroke-linejoin="round"/>
<path d="M2078.5 335.5L2097.5 335.5M2151.0 335.5L2170.5 335.5M2224.5 335.5L2234.0 335.5" fill="none" stroke="#00ff00" stroke-width="13" stroke-linejoin="round" stroke-linecap="round"/><path d="M2072.0 335.5L2104.0 335.5M2144.5 335.5L2177.0 335.5M2218.0 335.5L2240.5 335.5" fill="none" stroke="#00ff00" stroke-width="8.06" stroke-linejoin="round"/>
<path d="M2073.2 444.0L2074.8 444.0A3 3 0 0 1 2077.8 447.0L2077.8 454.0A3 3 0 0 1 2074.8 457.0L2073.2 457.0A3 3 0 0 1 2070.2 454.0L2070.2 447.0A3 3 0 0 1 2073.2 444.0ZM2091.5 444.0L2093.0 444.0A3 3 0 0 1 2096.0 447.0L2096.0 454.0A3 3 0 0 1 2093.0 457.0L2091.5 457.0A3 3 0 0 1 2088.5 454.0L2088.5 447.0A3 3 0 0 1 2091.5 444.0ZM2109.7 444.0L2111.2 444.0A3 3 0 0 1 2114.2 447.0L2114.2 454.0A3 3 0 0 1 2111.2 457.0L2109.7 457.0A3 3 0 0 1 2106.7 454.0L2106.7 447.0A3 3 0 0 1 2109.7 444.0ZM2127.9 444.0L2129.4 444.0A3 3 0 0 1 2132.4 447.0L2132.4 454.0A3 3 0 0 1 2129.4 457.0L2127.9 457.0A3 3 0 0 1 2124.9 454.0L2124.9 447.0A3 3 0 0 1 2127.9 444.0ZM2146.1 444.0L2147.6 444.0A3 3 0 0 1 2150.6 447.0L2150.6 454.0A3 3 0 0 1 2147.6 457.0L2146.1 457.0A3 3 0 0 1 2143.1 454.0L2143.1 447.0A3 3 0 0 1 2146.1 444.0ZM2164.3 444.0L2165.8 444.0A3 3 0 0 1 2168.8 447.0L2168.8 454.0A3 3 0 0 1 2165.8 457.0L2164.3 457.0A3 3 0 0 1 2161.3 454.0L2161.3 447.0A3 3 0 0 1 2164.3 444.0ZM2182.6 444.0L2184.1 444.0A3 3 0 0 1 2187.1 447.0L2187.1 454.0A3 3 0 0 1 2184.1 457.0L2182.6 457.0A3 3 0 0 1 2179.6 454.0L2179.6 447.0A3 3 0 0 1 2182.6 444.0ZM2200.8 444.0L2202.3 444.0A3 3 0 0 1 2205.3 447.0L2205.3 454.0A3 3 0 0 1 2202.3 457.0L2200.8 457.0A3 3 0 0 1 2197.8 454.0L2197.8 447.0A3 3 0 0 1 2200.8 444.0ZM2219.0 444.0L2220.5 444.0A3 3 0 0 1 2223.5 447.0L2223.5 454.0A3 3 0 0 1 2220.5 457.0L2219.0 457.0A3 3 0 0 1 2216.0 454.0L2216.0 447.0A3 3 0 0 1 2219.0 444.0ZM2237.2 444.0L2238.7 444.0A3 3 0 0 1 2241.7 447.0L2241.7 454.0A3 3 0 0 1 2238.7 457.0L2237.2 457.0A3 3 0 0 1 2234.2 454.0L2234.2 447.0A3 3 0 0 1 2237.2 444.0Z" fill="#0000ff"/>
<g font-family="'Liberation Serif','Times New Roman',serif" fill="#262626">
<text x="2259" y="224" font-size="66">v</text><text x="2295" y="259" font-size="54">x</text>
<text x="2259" y="340.5" font-size="66">v</text><text x="2295" y="375.5" font-size="54">y</text>
<text x="2259" y="456.5" font-size="66">v</text><text x="2295" y="488.5" font-size="54">z</text>
</g>
</svg>
</body></html>
